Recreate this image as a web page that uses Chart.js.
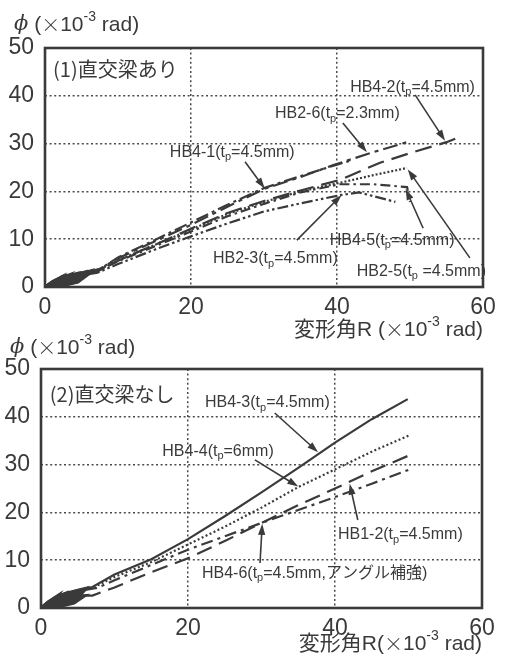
<!DOCTYPE html>
<html>
<head>
<meta charset="utf-8">
<script src="https://cdn.jsdelivr.net/npm/chart.js@4.4.0/dist/chart.umd.min.js"></script>
<style>
  html, body { margin: 0; padding: 0; background: #fff; }
  body { width: 505px; height: 662px; position: relative; overflow: hidden; }
  canvas { position: absolute; left: 0; }
  #top { top: 0; }
  #bottom { top: 330px; }
</style>
</head>
<body>
<canvas id="top" width="505" height="345" style="width:505px;height:345px"></canvas>
<canvas id="bottom" width="505" height="332" style="width:505px;height:332px"></canvas>
<script>
// Axis ticks (×10^-3 rad)
const xTicks = [0, 20, 40, 60];
const yTicks = [0, 10, 20, 30, 40, 50];

// (1) specimens with orthogonal beam: [R, phi] pairs; small cyclic loops first, then the envelope
const HB4_1 = [[0,0],[1,1.1],[2,1.9],[1,0.3],[0,0],[2,1.9],[3,2.3],[1.5,0.4],[0.3,0],[3,2.3],[4,2.6],[2.5,0.8],[0.8,0],[4,2.6],[5,2.9],[3.5,1],[1.5,0.1],[5,2.9],[6,3.2],[4.5,1.3],[2.5,0.5],[6,3.2],[7.5,3.7],
  [10,6.2],[15,9.8],[20,13.5],[25,17.2],[30,20.7],[35,23.2],[40,25.6],[42,26.5]];
const HB2_6 = [[0,0],[1.1,1.2],[2.1,1.9],[1.1,0.4],[0,0],[2.1,1.8],[3.1,2.4],[1.6,0.5],[0.4,0],[3.1,2.3],[4.1,2.7],[2.6,0.9],[0.9,0.1],[4.1,2.6],[5.1,3],[3.6,1.1],[1.6,0.2],[5.1,2.9],[6.1,3.3],[4.6,1.4],[2.6,0.6],[6.1,3.2],[7.5,3.8],
  [10,6],[15,9.5],[20,13],[25,16.8],[30,20.5],[35,23],[39.5,25.5],[44.5,28],[49.6,30.3]];
const HB4_2 = [[0,0],[0.9,0.9],[1.9,1.6],[0.9,0.2],[0,0],[1.9,1.6],[2.9,2],[1.4,0.3],[0.2,0],[2.9,2],[3.9,2.4],[2.4,0.7],[0.7,0],[3.9,2.3],[4.9,2.7],[3.4,0.9],[1.4,0.1],[4.9,2.6],[5.9,3],[4.4,1.2],[2.4,0.4],[5.9,2.9],[7.4,3.4],
  [10,5.5],[15,8.8],[20,12.2],[25,15.5],[30,18],[35,20.2],[40.4,22.4],[45.9,26],[50,28],[55,30.3],[56.8,31.4]];
const HB2_5 = [[0,0],[1,1],[2,1.7],[1,0.3],[0,0],[2,1.7],[3,2.2],[1.5,0.4],[0.3,0],[3,2.1],[4,2.5],[2.5,0.8],[0.8,0],[4,2.5],[5,2.8],[3.5,1],[1.5,0.1],[5,2.8],[6,3.1],[4.5,1.2],[2.5,0.5],[6,3.1],[7.4,3.6],
  [10,5.6],[15,8.8],[20,12],[25,15.3],[30,17.8],[35,20],[40.4,21.8],[45,23.4],[49.6,24.9]];
const HB4_5 = [[0,0],[1,1],[2,1.6],[1,0.3],[0,0],[2,1.6],[3,2.1],[1.5,0.4],[0.3,0],[3,2.1],[4,2.4],[2.5,0.7],[0.8,0],[4,2.4],[5,2.7],[3.5,0.9],[1.5,0.1],[5,2.7],[6,3],[4.5,1.1],[2.5,0.4],[6,3],[7.3,3.4],
  [10,5.4],[15,8.5],[20,11.6],[25,14.8],[30,17.4],[35,19.8],[40.4,21.5],[45,21.5],[49.6,20.9],[50,17.8]];
const HB2_3 = [[0,0],[1,0.8],[2,1.4],[1,0.2],[0,0],[2,1.4],[3,1.8],[1.5,0.3],[0.3,0],[3,1.8],[4,2.1],[2.5,0.6],[0.8,0],[4,2.1],[5,2.4],[3.5,0.8],[1.5,0.1],[5,2.4],[6,2.7],[4.5,1],[2.5,0.3],[6,2.7],[7.2,3],
  [10,4.8],[15,7.8],[20,10.6],[25,13.3],[30,15.8],[35,17.5],[40.4,19.2],[43,19.8],[48,17.8]];

// (2) specimens without orthogonal beam
const HB4_3 = [[0,0],[1,1.3],[2,2.3],[1,0.5],[0,0],[2,2.3],[3,2.9],[1.5,0.6],[0.3,0],[3,2.9],[4,3.3],[2.5,1],[0.8,0.1],[4,3.3],[5,3.7],[3.5,1.3],[1.5,0.2],[5,3.7],[6,4.1],[4.5,1.6],[2.5,0.6],[6,4.1],[7,4.4],
  [10,7],[15,10.2],[20,14.4],[25,19.2],[30,24.2],[35,29.3],[40,34.6],[45,39.5],[49.9,43.7]];
const HB4_4 = [[0,0],[1,1.2],[2,2.2],[1,0.4],[0,0],[2,2.2],[3,2.8],[1.5,0.6],[0.3,0],[3,2.8],[4,3.2],[2.5,0.9],[0.8,0.1],[4,3.2],[5,3.6],[3.5,1.2],[1.5,0.2],[5,3.6],[6,4],[4.5,1.5],[2.5,0.5],[6,4],[7,4.2],
  [10,6.5],[15,9.6],[20,13.3],[25,17],[30,21],[35,25.3],[40,29],[45,32.7],[50.2,36.2]];
const HB1_2 = [[0,0],[1,1],[2,1.7],[1,0.2],[0,0],[2,1.7],[3,2.1],[1.5,0.3],[0.3,0],[3,2.1],[4,2.3],[2.5,0.6],[0.8,0],[4,2.3],[5,2.5],[3.5,0.8],[1.5,0.1],[5,2.5],[6,2.6],[4.5,1],[2.5,0.3],[6,2.6],[7,2.6],
  [10,4.3],[15,7.5],[20,10.4],[25,14],[30,17.8],[35,21.5],[40,25],[45,28.6],[50.2,32]];
const HB4_6 = [[0,0],[1,1.2],[2,2],[1,0.4],[0,0],[2,2],[3,2.6],[1.5,0.5],[0.3,0],[3,2.6],[4,3],[2.5,0.8],[0.8,0.1],[4,3],[5,3.4],[3.5,1.1],[1.5,0.2],[5,3.4],[6,3.8],[4.5,1.4],[2.5,0.5],[6,3.8],[7.6,4.2],
  [10,5.8],[15,9],[20,12.2],[25,15],[30,17.8],[35,20.5],[40,23.2],[45,26],[50,28.9]];

const INK = '#3a3a3a';
const NARROW = '"Liberation Sans Narrow", "Liberation Sans", "Noto Sans CJK JP", sans-serif';
const CJK = '"Noto Sans CJK JP", "Liberation Sans", sans-serif';

// Split "a_{p}b^{-3}" into plain / subscript / superscript runs; "~{x}" italic, "#{x}" CJK glyph
function runs(s) {
  const out = [];
  const re = /_\{([^}]*)\}|\^\{([^}]*)\}|~\{([^}]*)\}|#\{([^}]*)\}|([^_^~#]+)/g;
  let m;
  while ((m = re.exec(s))) {
    if (m[1] !== undefined) out.push({ t: m[1], k: 'sub' });
    else if (m[2] !== undefined) out.push({ t: m[2], k: 'sup' });
    else if (m[3] !== undefined) out.push({ t: m[3], k: 'it' });
    else if (m[4] !== undefined) out.push({ t: m[4], k: 'cjk' });
    else out.push({ t: m[5], k: 'n' });
  }
  return out;
}
function runFont(r, size, family) {
  if (r.k === 'sub' || r.k === 'sup') return Math.round(size * 0.66) + 'px ' + family;
  if (r.k === 'it') return 'italic ' + size + 'px "DejaVu Serif", serif';
  if (r.k === 'cjk') return '300 ' + Math.round(size * 0.92) + 'px ' + CJK;
  return size + 'px ' + family;
}
function drawRich(ctx, s, x, y, size, family, align) {
  const rs = runs(s);
  let total = 0;
  rs.forEach(r => { ctx.font = runFont(r, size, family); r.w = ctx.measureText(r.t).width; total += r.w; });
  let cx = align === 'right' ? x - total : x;
  ctx.textBaseline = 'middle';
  ctx.textAlign = 'left';
  rs.forEach(r => {
    ctx.font = runFont(r, size, family);
    let dy = 0;
    if (r.k === 'sub') dy = size * 0.32;
    if (r.k === 'sup') dy = -size * 0.36;
    ctx.fillText(r.t, cx, y + dy);
    cx += r.w;
  });
}
function arrow(ctx, x1, y1, x2, y2) {
  const a = Math.atan2(y2 - y1, x2 - x1);
  const L = 11, W = 3.6;
  ctx.beginPath();
  ctx.moveTo(x1, y1);
  ctx.lineTo(x2 - Math.cos(a) * L * 0.8, y2 - Math.sin(a) * L * 0.8);
  ctx.stroke();
  ctx.beginPath();
  ctx.moveTo(x2, y2);
  ctx.lineTo(x2 - Math.cos(a) * L - Math.sin(a) * W, y2 - Math.sin(a) * L + Math.cos(a) * W);
  ctx.lineTo(x2 - Math.cos(a) * L + Math.sin(a) * W, y2 - Math.sin(a) * L - Math.cos(a) * W);
  ctx.closePath();
  ctx.fill();
}

// Frame, panel caption, curve labels with leader arrows, and axis titles
const notesPlugin = {
  id: 'notes',
  afterDatasetsDraw(chart, args, opts) {
    const { ctx, chartArea: ca, scales } = chart;
    const X = v => scales.x.getPixelForValue(v);
    const Y = v => scales.y.getPixelForValue(v);
    ctx.save();
    ctx.strokeStyle = INK;
    ctx.lineWidth = 2.6;
    ctx.strokeRect(ca.left, ca.top, ca.right - ca.left, ca.bottom - ca.top);
    ctx.fillStyle = INK;
    drawRich(ctx, opts.caption.text, X(opts.caption.at[0]), Y(opts.caption.at[1]), 20, CJK, 'left');
    ctx.lineWidth = 1.6;
    opts.labels.forEach(l => {
      drawRich(ctx, l.text, X(l.at[0]), Y(l.at[1]), 16, NARROW, 'left');
      arrow(ctx, X(l.from[0]), Y(l.from[1]), X(l.to[0]), Y(l.to[1]));
    });
    drawRich(ctx, opts.yTitle.text, opts.yTitle.x, opts.yTitle.y, 21, NARROW, 'left');
    drawRich(ctx, opts.xTitle.text, ca.right, opts.xTitle.y, 21, NARROW, 'right');
    ctx.restore();
  }
};

// Cyclic part (until R last steps back) is drawn solid and heavier; the envelope uses the dash pattern
function line(data, dash) {
  let lastBack = 0;
  for (let i = 1; i < data.length; i++) if (data[i][0] < data[i - 1][0]) lastBack = i;
  const loopEnd = lastBack + 1;
  return {
    data: data.map(([x, y]) => ({ x, y })),
    showLine: true,
    borderColor: INK,
    borderWidth: 2.2,
    borderDash: dash,
    pointRadius: 0,
    fill: false,
    tension: 0,
    segment: {
      borderDash: c => (c.p1DataIndex <= loopEnd ? [] : undefined),
      borderWidth: c => (c.p1DataIndex <= loopEnd ? 3 : undefined)
    }
  };
}

function makeChart(id, datasets, frame, notes) {
  return new Chart(document.getElementById(id), {
    type: 'scatter',
    data: { datasets },
    options: {
      responsive: false,
      animation: false,
      events: [],
      layout: { padding: { left: 0, right: frame.right, top: frame.top, bottom: 0 } },
      plugins: { legend: { display: false }, tooltip: { enabled: false }, notes },
      scales: {
        x: {
          type: 'linear', min: xTicks[0], max: xTicks[xTicks.length - 1],
          afterBuildTicks: s => { s.ticks = xTicks.map(v => ({ value: v })); },
          afterFit: s => { s.height = frame.xAxisH; },
          grid: { color: '#4a4a4a', lineWidth: 1.5, drawTicks: false },
          border: { display: false, dash: [2, 2.6] },
          ticks: { color: INK, padding: 7, font: { family: NARROW, size: 23 } }
        },
        y: {
          type: 'linear', min: yTicks[0], max: yTicks[yTicks.length - 1],
          afterBuildTicks: s => { s.ticks = yTicks.map(v => ({ value: v })); },
          afterFit: s => { s.width = frame.yAxisW; },
          grid: { color: '#4a4a4a', lineWidth: 1.5, drawTicks: false },
          border: { display: false, dash: [2, 2.6] },
          ticks: { color: INK, padding: 11, font: { family: NARROW, size: 23 } }
        }
      }
    },
    plugins: [notesPlugin]
  });
}

makeChart('top', [
  line(HB4_1, [13, 4, 3, 4]),
  line(HB2_6, [15, 5, 4, 5]),
  line(HB4_2, [17, 8]),
  line(HB2_5, [2, 2]),
  line(HB4_5, [10, 4, 2.5, 4]),
  line(HB2_3, [11, 3, 2.5, 3, 2.5, 3])
], { top: 48, right: 22, xAxisH: 58, yAxisW: 45 }, {
  caption: { text: '(1)直交梁あり', at: [1.1, 45.6] },
  yTitle: { text: '~{ϕ} (#{×}10^{-3} rad)', x: 14, y: 25 },
  xTitle: { text: '変形角R (#{×}10^{-3} rad)', y: 330 },
  labels: [
    { text: 'HB4-2(t_{p}=4.5mm)', at: [41.8, 41.8], from: [50.7, 40.2], to: [54.8, 30.6] },
    { text: 'HB2-6(t_{p}=2.3mm)', at: [31.5, 36.2], from: [40.8, 34.3], to: [44.1, 28.2] },
    { text: 'HB4-1(t_{p}=4.5mm)', at: [17.1, 28.2], from: [27.4, 26.2], to: [30.1, 20.6] },
    { text: 'HB2-3(t_{p}=4.5mm)', at: [23, 5.9], from: [34.5, 9.8], to: [40.6, 19.2] },
    { text: 'HB4-5(t_{p}=4.5mm)', at: [39, 9.8], from: [51.8, 12.3], to: [49.4, 20.5] },
    { text: 'HB2-5(t_{p} =4.5mm)', at: [42.7, 3.3], from: [58.2, 6.1], to: [49.7, 24.6] }
  ]
});

makeChart('bottom', [
  line(HB4_3, []),
  line(HB4_4, [2, 2.4]),
  line(HB1_2, [16, 8]),
  line(HB4_6, [12, 5, 3, 5])
], { top: 39, right: 23, xAxisH: 54, yAxisW: 41 }, {
  caption: { text: '(2)直交梁なし', at: [1.2, 44.6] },
  yTitle: { text: '~{ϕ} (#{×}10^{-3} rad)', x: 10, y: 18 },
  xTitle: { text: '変形角R(#{×}10^{-3} rad)', y: 314 },
  labels: [
    { text: 'HB4-3(t_{p}=4.5mm)', at: [22.3, 42.9], from: [31.8, 40.8], to: [37.7, 32.6] },
    { text: 'HB4-4(t_{p}=6mm)', at: [16.5, 32.8], from: [29.1, 31], to: [35, 25.4] },
    { text: 'HB1-2(t_{p}=4.5mm)', at: [40.4, 15.3], from: [43.1, 18.4], to: [42, 26] },
    { text: 'HB4-6(t_{p}=4.5mm,アングル補強)', at: [21.9, 7.3], from: [29.8, 9.4], to: [30.1, 17.6] }
  ]
});
</script>
</body>
</html>
